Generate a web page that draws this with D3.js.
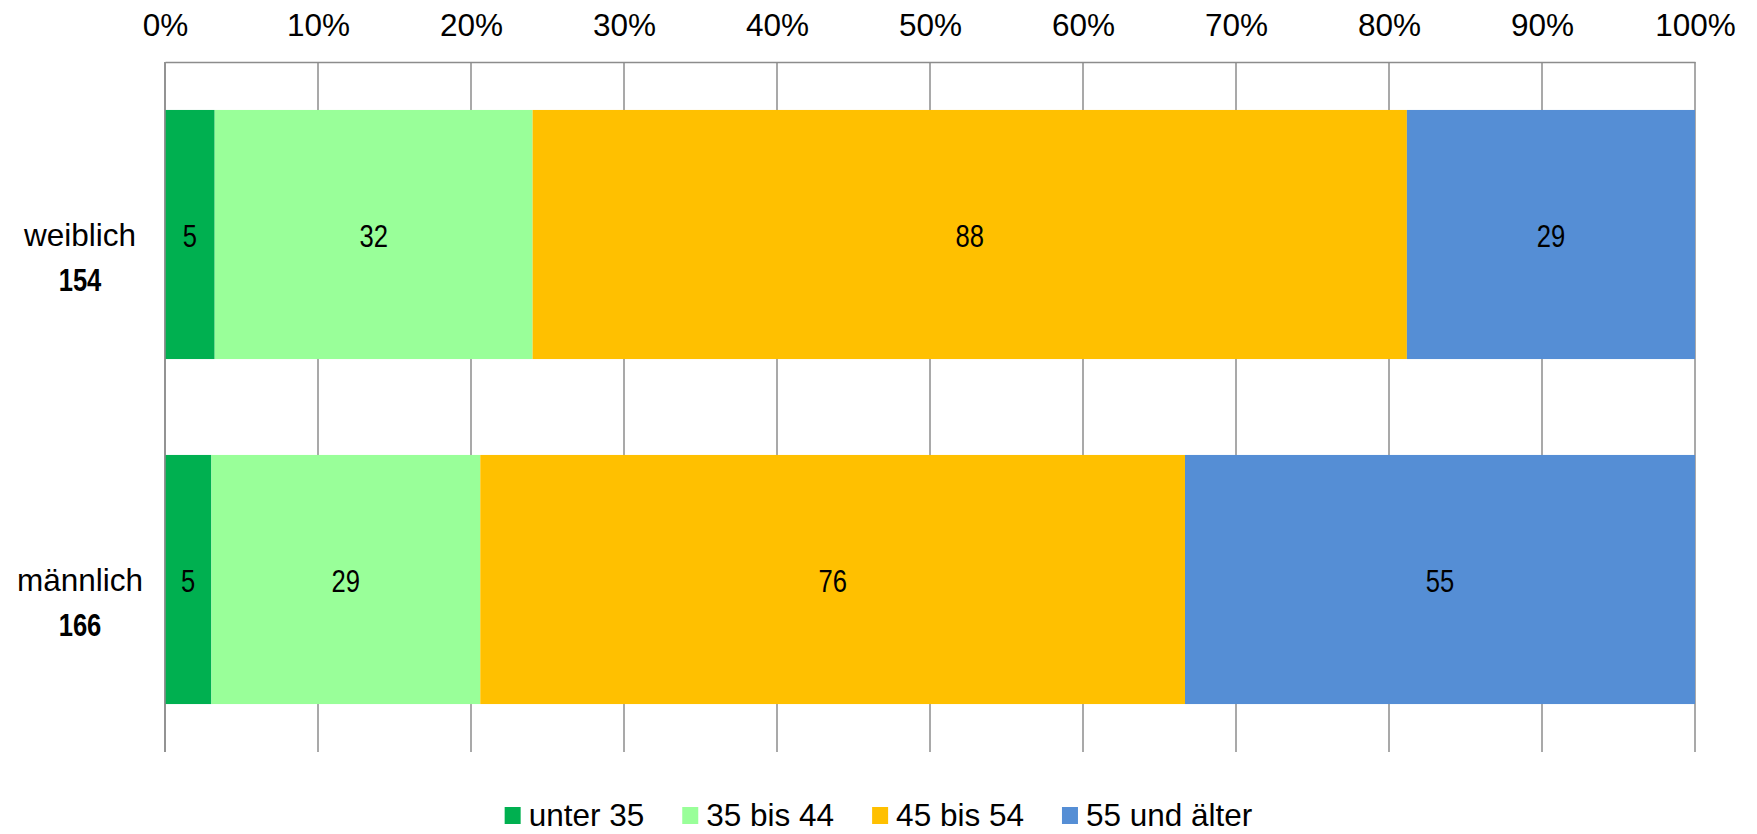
<!DOCTYPE html>
<html><head><meta charset="utf-8">
<script src="https://cdn.jsdelivr.net/npm/d3@7"></script>
<style>
html,body{margin:0;padding:0;background:#fff;}
svg{display:block;}
</style></head>
<body>
<svg id="chart" width="1757" height="834"></svg>
<script>
const categories = ["weiblich", "männlich"];
const totals = ["154", "166"];
const seriesNames = ["unter 35", "35 bis 44", "45 bis 54", "55 und älter"];
const seriesColors = ["#00B050", "#99FF99", "#FFC000", "#558ED5"];
const unter35 = [5, 5];
const bis44 = [32, 29];
const bis54 = [88, 76];
const aelter55 = [29, 55];
const tickValues = [0, 0.1, 0.2, 0.3, 0.4, 0.5, 0.6, 0.7, 0.8, 0.9, 1.0];

const series = [unter35, bis44, bis54, aelter55];
const svg = d3.select("#chart");
const W = 1757, H = 834;
const margin = {left: 165, right: 62, top: 62, bottom: 82};
const x = d3.scaleLinear().domain([0, 1]).range([margin.left, W - margin.right]);
const y = d3.scaleBand().domain(categories).range([margin.top, H - margin.bottom])
  .paddingInner(0.278).paddingOuter(0.139);

const regFont = "'Liberation Sans', Arial, sans-serif";
const gridColor = "#8C8C8C";
const narrow = 0.8;

// gridlines
svg.append("g").selectAll("line").data(tickValues).join("line")
  .attr("x1", d => x(d)).attr("x2", d => x(d))
  .attr("y1", margin.top).attr("y2", H - margin.bottom)
  .attr("stroke", gridColor).attr("stroke-width", 1.5);

// top axis
const axis = d3.axisTop(x).tickValues(tickValues).tickSize(0).tickPadding(26)
  .tickFormat(d => Math.round(d * 100) + "%");
const ag = svg.append("g").attr("transform", `translate(0,${margin.top})`).call(axis);
ag.select(".domain").attr("stroke", gridColor).attr("stroke-width", 1.5);
ag.selectAll("text").attr("font-family", regFont).attr("font-size", 31.5).attr("fill", "#000");

// stacked data
const rows = categories.map((c, i) => {
  const vals = series.map(s => s[i]);
  const sum = d3.sum(vals);
  let acc = 0;
  return vals.map((v, k) => { const r = {cat: c, k, v, x0: acc / sum, x1: (acc + v) / sum}; acc += v; return r; });
});

const segs = rows.flat();
svg.append("g").selectAll("rect").data(segs).join("rect")
  .attr("x", d => x(d.x0)).attr("width", d => x(d.x1) - x(d.x0))
  .attr("y", d => y(d.cat)).attr("height", y.bandwidth())
  .attr("fill", d => seriesColors[d.k]);

svg.append("g").selectAll("text").data(segs).join("text")
  .attr("transform", d => `translate(${(x(d.x0) + x(d.x1)) / 2},${y(d.cat) + y.bandwidth() / 2 + 12}) scale(${narrow},1)`)
  .attr("text-anchor", "middle")
  .attr("font-family", regFont).attr("font-size", 32).attr("fill", "#000")
  .text(d => d.v);

// left axis line
svg.append("line").attr("x1", x(0)).attr("x2", x(0))
  .attr("y1", margin.top).attr("y2", H - margin.bottom)
  .attr("stroke", gridColor).attr("stroke-width", 1.5);

// category labels
const cl = svg.append("g").selectAll("g").data(categories).join("g");
cl.append("text").attr("x", 80).attr("y", d => y(d) + y.bandwidth() / 2 + 11)
  .attr("text-anchor", "middle").attr("font-family", regFont).attr("font-size", 31.5)
  .attr("fill", "#000").text(d => d);
cl.append("text")
  .attr("transform", d => `translate(80,${y(d) + y.bandwidth() / 2 + 56}) scale(${narrow},1)`)
  .attr("text-anchor", "middle").attr("font-family", regFont).attr("font-weight", "bold")
  .attr("font-size", 32).attr("fill", "#000").text((d, i) => totals[i]);

// legend
const lg = svg.append("g");
const items = lg.selectAll("g").data(seriesNames).join("g");
items.append("rect").attr("width", 16).attr("height", 17).attr("y", 807)
  .attr("fill", (d, i) => seriesColors[i]);
items.append("text").attr("x", 24).attr("y", 826)
  .attr("font-family", regFont).attr("font-size", 31.5).attr("fill", "#000").text(d => d);
let pos = 0;
const offs = [];
items.each(function() {
  const w = 24 + this.querySelector("text").getComputedTextLength();
  offs.push(pos); pos += w + 38;
});
const totalW = pos - 38;
const startX = W / 2 - totalW / 2;
items.attr("transform", (d, i) => `translate(${startX + offs[i]},0)`);
</script>
</body></html>
